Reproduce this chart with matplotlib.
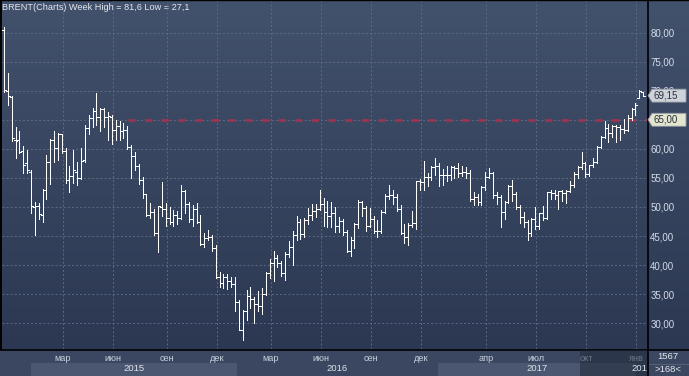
import numpy as np
import matplotlib
matplotlib.use('Agg')
import matplotlib.pyplot as plt
from matplotlib.collections import LineCollection
from matplotlib.colors import LinearSegmentedColormap
from matplotlib.patches import Polygon, Rectangle
from matplotlib import transforms

plt.rcParams['font.family'] = ['Liberation Sans', 'DejaVu Sans']

# weekly Brent bars, Nov 2014 .. Jan 2018
opens = [80.4, 69.9, 68.9, 61.5, 61.6, 59.7, 57.5, 56.0, 50.0, 50.2,
         48.6, 53.0, 57.8, 61.5, 60.2, 62.5, 59.6, 54.7, 55.4, 56.1,
         55.0, 58.0, 63.5, 65.3, 66.5, 65.4, 66.8, 65.4, 65.5, 63.3,
         63.9, 63.0, 63.3, 60.3, 58.7, 57.1, 54.6, 52.2, 48.6, 49.2,
         45.5, 50.0, 49.6, 48.1, 47.5, 48.6, 48.1, 52.7, 50.5, 48.0,
         49.6, 47.4, 43.6, 44.7, 44.9, 43.0, 37.9, 36.9, 37.9, 37.3,
         36.8, 33.6, 28.9, 32.2, 34.7, 34.1, 33.4, 33.0, 35.1, 38.7,
         40.4, 41.2, 40.4, 38.7, 41.9, 43.1, 45.1, 47.4, 45.4, 47.8,
         48.7, 49.3, 49.6, 50.5, 49.2, 48.4, 49.0, 46.8, 47.6, 45.7,
         42.5, 44.3, 47.0, 50.9, 49.9, 46.8, 48.0, 45.8, 45.9, 49.1,
         51.9, 52.0, 51.8, 49.7, 45.6, 44.8, 46.9, 47.2, 54.5, 54.3,
         55.2, 55.2, 56.8, 57.1, 55.5, 55.5, 55.5, 56.8, 56.7, 55.8,
         56.0, 55.9, 51.4, 51.8, 50.8, 53.5, 55.2, 55.9, 52.0, 51.7,
         49.1, 50.8, 53.6, 52.2, 50.0, 48.2, 47.4, 45.5, 47.9, 46.7,
         48.9, 48.1, 52.5, 52.4, 52.1, 52.7, 52.4, 52.8, 53.8, 55.6,
         56.9, 57.5, 55.6, 57.2, 57.8, 60.4, 62.1, 63.5, 62.7, 63.9,
         63.7, 63.4, 63.2, 65.3, 66.9, 68.8, 69.8]
highs = [81.0, 73.1, 69.0, 63.8, 63.0, 60.5, 59.8, 56.4, 50.8, 50.7,
         53.1, 59.0, 61.7, 63.0, 62.8, 62.6, 60.1, 57.0, 59.8, 57.7,
         60.1, 64.1, 65.8, 67.1, 69.6, 67.0, 67.0, 66.4, 65.8, 65.0,
         64.7, 64.5, 64.0, 60.7, 59.4, 57.4, 55.2, 52.3, 50.6, 49.7,
         50.1, 54.3, 50.6, 50.0, 49.4, 49.3, 53.8, 53.0, 50.8, 50.4,
         50.6, 48.6, 45.6, 46.0, 45.1, 43.5, 38.9, 38.5, 38.5, 37.9,
         37.9, 34.0, 32.3, 35.8, 36.3, 34.5, 35.6, 36.0, 38.8, 41.1,
         42.5, 41.8, 40.7, 42.3, 44.1, 45.9, 48.5, 47.9, 48.1, 49.8,
         50.5, 50.5, 52.9, 51.5, 51.0, 50.8, 50.0, 48.3, 48.0, 46.0,
         44.8, 47.3, 51.2, 51.0, 50.2, 49.9, 48.5, 47.7, 49.4, 52.2,
         53.7, 53.0, 52.2, 50.4, 47.1, 47.2, 49.3, 54.5, 54.8, 57.9,
         55.8, 57.0, 58.4, 57.5, 56.5, 57.0, 57.1, 57.0, 57.5, 57.0,
         56.9, 56.4, 52.6, 52.3, 53.6, 56.1, 56.7, 56.0, 52.5, 52.0,
         51.0, 53.8, 54.7, 52.5, 50.3, 49.2, 47.7, 48.1, 50.0, 49.0,
         50.1, 52.6, 53.0, 53.0, 52.8, 53.0, 53.0, 54.5, 56.0, 57.0,
         59.5, 57.7, 57.3, 58.5, 60.5, 62.2, 64.7, 64.2, 64.1, 64.1,
         64.1, 65.2, 65.8, 67.0, 67.9, 70.1, 69.8]
lows = [69.8, 67.5, 61.3, 58.4, 59.3, 55.8, 55.8, 49.0, 45.2, 48.0,
        47.5, 51.3, 54.0, 57.8, 58.1, 59.3, 54.1, 52.5, 54.1, 53.8,
        54.8, 57.7, 62.6, 63.7, 64.1, 63.1, 63.8, 61.5, 60.9, 61.5,
        61.6, 61.9, 60.0, 55.0, 56.3, 54.0, 51.6, 48.4, 48.1, 45.1,
        42.2, 48.4, 46.8, 47.0, 46.8, 47.1, 47.9, 48.9, 47.4, 46.8,
        47.3, 43.5, 43.1, 44.3, 42.5, 37.8, 36.3, 36.0, 35.9, 36.2,
        32.2, 28.8, 27.1, 30.5, 32.6, 30.0, 32.1, 31.6, 34.8, 37.8,
        37.3, 39.6, 38.2, 37.4, 41.4, 40.1, 44.4, 44.5, 44.8, 47.0,
        47.7, 48.3, 49.5, 46.8, 46.5, 46.5, 45.7, 45.7, 45.2, 42.2,
        41.5, 43.0, 46.4, 48.5, 45.8, 46.5, 45.5, 44.9, 45.6, 48.9,
        51.3, 50.5, 49.3, 45.4, 43.8, 43.4, 46.5, 46.3, 53.0, 53.0,
        53.6, 54.6, 55.5, 53.6, 53.8, 54.5, 54.7, 54.9, 55.2, 55.3,
        54.9, 51.0, 50.3, 50.3, 50.3, 52.9, 54.9, 51.6, 50.5, 46.6,
        47.9, 50.6, 51.1, 49.6, 47.2, 46.5, 44.4, 45.0, 46.3, 46.2,
        47.7, 48.0, 51.4, 51.4, 49.7, 51.0, 50.7, 52.5, 53.4, 55.0,
        56.5, 55.2, 55.3, 56.9, 57.5, 60.1, 61.9, 61.1, 62.0, 61.2,
        61.6, 62.7, 63.0, 65.0, 65.8, 68.7, 69.0]
closes = [70.1, 69.1, 61.8, 61.4, 59.5, 57.3, 56.4, 50.1, 50.2, 48.8,
          53.0, 57.8, 61.5, 60.2, 62.6, 59.7, 54.7, 55.3, 56.4, 55.0,
          57.9, 63.5, 65.3, 66.5, 65.4, 66.8, 65.4, 65.6, 63.3, 63.9,
          63.0, 63.3, 60.3, 58.7, 57.1, 54.6, 52.2, 48.6, 49.2, 45.5,
          50.1, 49.6, 48.1, 47.5, 48.6, 48.1, 52.7, 50.5, 48.0, 49.6,
          47.4, 43.6, 44.7, 44.9, 43.0, 37.9, 36.9, 37.9, 37.3, 36.8,
          33.6, 28.9, 32.2, 34.7, 34.1, 33.4, 33.0, 35.1, 38.7, 40.4,
          41.2, 40.4, 38.7, 41.9, 43.1, 45.1, 47.4, 45.4, 47.8, 48.7,
          49.3, 49.6, 50.5, 49.2, 48.4, 49.0, 46.8, 47.6, 45.7, 42.5,
          44.3, 47.0, 50.9, 49.9, 46.8, 48.0, 45.8, 45.9, 49.1, 51.9,
          52.0, 51.8, 49.7, 45.6, 44.8, 46.9, 47.2, 54.5, 54.3, 55.2,
          55.2, 56.8, 57.1, 55.5, 55.5, 55.5, 56.8, 56.7, 55.8, 56.0,
          55.9, 51.4, 51.8, 50.8, 53.5, 55.2, 55.9, 52.0, 51.7, 49.1,
          50.8, 53.6, 52.2, 50.0, 48.2, 47.4, 45.5, 47.9, 46.7, 48.9,
          48.1, 52.5, 52.4, 52.1, 52.7, 52.4, 52.8, 53.8, 55.6, 56.9,
          57.5, 55.6, 57.2, 57.8, 60.4, 62.1, 63.5, 62.7, 63.9, 63.7,
          63.4, 63.2, 65.3, 66.9, 67.6, 69.9, 69.15]

y_ticks = [30, 35, 40, 45, 50, 55, 60, 65, 70, 75, 80]
month_pos = [15, 28, 42, 55, 69, 82, 95, 108, 125, 138, 151, 164]
month_labels = ['мар', 'июн', 'сен', 'дек', 'мар', 'июн', 'сен', 'дек',
                'апр', 'июл', 'окт', 'янв']
year_starts = [7.0, 60.5, 112.7, 164.2]
year_labels = ['2015', '2016', '2017', '2018']
level = 65.0
level_from = 32.2
faded_from = 149.6
week_high, week_low = 81.6, 27.1
bars_total, bars_shown = 1567, 168

W, H = 689, 376
X0, X1 = -0.52, 167.0
Y0, Y1 = 25.58, 85.42

fig = plt.figure(figsize=(W / 100, H / 100), dpi=100)

# background layer in pixel coordinates
bg = fig.add_axes([0, 0, 1, 1], zorder=0)
bg.set_xlim(0, W)
bg.set_ylim(H, 0)
bg.axis('off')
cmap = LinearSegmentedColormap.from_list('bgr', ['#42516c', '#2c3852'])
bg.imshow(np.linspace(0, 1, 256)[:, None], cmap=cmap, aspect='auto',
          extent=(0, W, 349, 0))
bg.add_patch(Rectangle((0, 349), W, H - 349, color='#3b4760', lw=0))
bg.plot([647.5, 647.5], [0, H], color='black', lw=1.2)
bg.plot([0, W], [349.5, 349.5], color='black', lw=1.2)
bg.plot([0, W], [0.4, 0.4], color='black', lw=1.0)
bg.plot([0.6, 0.6], [0, 349], color='black', lw=1.4)
bg.plot([649, 688], [363.5, 363.5], color='#56627a', lw=0.7)
bg.text(2, 7.5, f'BRENT(Charts) Week High = {week_high:.1f} Low = {week_low:.1f}'.replace('.', ','),
        fontsize=6.6, color='#e4e8f0', va='center', ha='left')
bg.text(668, 356.5, str(bars_total), fontsize=6.8, color='#e4e8f0', ha='center', va='center')
bg.text(668, 369, f'>{bars_shown}<', fontsize=6.8, color='#e4e8f0', ha='center', va='center')

# price panel
ax = fig.add_axes([2 / W, 27 / H, 645 / W, 348 / H], zorder=1)
ax.set_facecolor('none')
ax.set_xlim(X0, X1)
ax.set_ylim(Y0, Y1)
for s in ax.spines.values():
    s.set_visible(False)

ax.set_xticks(np.array(month_pos) + 0.25)
ax.set_xticklabels([])
ax.tick_params(axis='x', length=0)
ax.yaxis.tick_right()
ax.set_yticks(y_ticks)
# the 65 level carries its own tag, so its tick label stays empty
ax.set_yticklabels(['' if v == level else f'{v:.2f}'.replace('.', ',') for v in y_ticks])
ax.tick_params(axis='y', length=0, pad=2.3, labelsize=7, labelcolor='#d2dbe8')
ax.grid(True, color='#5d6a84', lw=0.7, linestyle=(0, (2, 2.2)))
ax.set_axisbelow(True)

ax.hlines(level, level_from, X1, color='#9a3650', lw=2.0,
          linestyle=(0, (2.6, 3.4)), zorder=2)

idx = np.arange(len(closes))
segs = []
for i, o, h, l, c in zip(idx, opens, highs, lows, closes):
    segs.append([(i, l), (i, h)])
    segs.append([(i - 0.5, o), (i, o)])
    segs.append([(i, c), (i + 0.5, c)])
ax.add_collection(LineCollection(segs, colors='white', linewidths=0.5,
                                 antialiased=False, zorder=3))

# price tags on the right
trans = transforms.blended_transform_factory(ax.transAxes, ax.transData)
half = 6.5 * (Y1 - Y0) / 348
for val, fc in [(closes[-1], '#ced2d9'), (level, '#e2e6cf')]:
    pts = [(1.0016, val), (1.0078, val + half), (1.0605, val + half),
           (1.0605, val - half), (1.0078, val - half)]
    ax.add_patch(Polygon(pts, closed=True, transform=trans, clip_on=False,
                         fc=fc, ec='#8d94a0', lw=0.6, zorder=5))
    ax.text(1.0095, val, f'{val:.2f}'.replace('.', ','), transform=trans,
            fontsize=7, color='#2a303c', va='center', ha='left', zorder=6)

# time strip
st = fig.add_axes([2 / W, 0, 645 / W, 26 / H], zorder=1, sharex=ax)
st.set_facecolor('none')
st.set_ylim(0, 26)
st.axis('off')
edges = year_starts + [X1 + 5]
for k, lab in enumerate(year_labels):
    a, b = edges[k], edges[k + 1]
    if k % 2 == 0:
        st.axvspan(a, b, 0, 0.5, color='#4b5770', lw=0)
    st.text((a + min(b, X1)) / 2, 7.2, lab, fontsize=6.8, color='#dde3ec',
            ha='center', va='center', clip_on=True)
for p, lab in zip(month_pos, month_labels):
    col = '#6c7689' if p > faded_from else '#c9d1de'
    st.text(p + 0.25, 17.8, lab, fontsize=6.6, color=col, ha='center', va='center')
st.axvspan(faded_from, X1, color='#1e2636', alpha=0.5, lw=0)

fig.savefig('out.png', dpi=100)
